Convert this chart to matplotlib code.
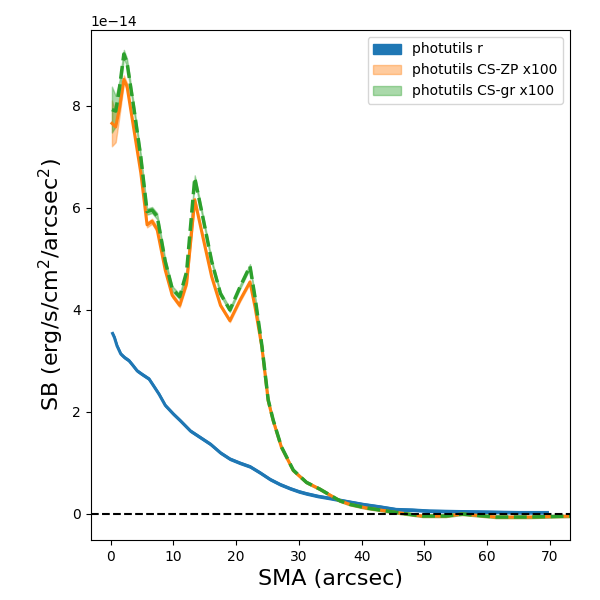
import numpy as np
import matplotlib
matplotlib.use("Agg")
import matplotlib.pyplot as plt

# surface brightness profiles, in units of 1e-14 erg/s/cm2/arcsec2
sma_r = [0.3, 0.6, 1.0, 1.6, 2.2, 2.9, 3.5, 4.2, 5.0, 6.1, 6.8, 7.7, 8.7, 10.0,
         11.1, 12.7, 14.3, 15.9, 17.5, 19.0, 20.6, 22.2, 23.8, 25.4, 27.0, 28.6,
         30.0, 31.2, 33.0, 34.9, 37.5, 40.2, 43.0, 45.5, 48.0, 50.8, 55.0, 60.0,
         65.0, 69.6]
sb_r = [3.54, 3.46, 3.30, 3.14, 3.07, 3.01, 2.92, 2.81, 2.74, 2.65, 2.52, 2.35,
        2.13, 1.96, 1.83, 1.63, 1.50, 1.37, 1.20, 1.08, 1.00, 0.93, 0.81, 0.68,
        0.58, 0.50, 0.44, 0.40, 0.35, 0.31, 0.25, 0.19, 0.14, 0.09, 0.08, 0.06,
        0.05, 0.04, 0.03, 0.03]
err_r = [0.02] * len(sb_r)

sma_cs = [0.2, 0.8, 1.4, 2.1, 2.6, 3.7, 4.8, 5.8, 6.6, 7.4, 8.7, 9.8, 11.0, 12.1,
          13.4, 14.8, 16.1, 17.5, 19.0, 20.6, 22.2, 23.0, 24.1, 25.1, 25.9, 27.2,
          29.1, 31.2, 33.3, 36.5, 38.1, 40.7, 45.5, 49.7, 53.4, 56.0, 61.4, 66.7,
          73.5]
sb_zp = [7.66, 7.59, 7.95, 8.52, 8.39, 7.54, 6.69, 5.67, 5.74, 5.58, 4.78, 4.29,
         4.09, 4.52, 6.16, 5.37, 4.65, 4.09, 3.79, 4.19, 4.55, 4.06, 3.27, 2.22,
         1.83, 1.31, 0.85, 0.62, 0.49, 0.26, 0.19, 0.12, 0.03, -0.04, -0.04,
         0.00, -0.06, -0.06, -0.04]
err_zp = [0.45, 0.30, 0.15, 0.08, 0.06, 0.06, 0.05, 0.05, 0.05, 0.05, 0.04, 0.04,
          0.04, 0.04, 0.04, 0.04, 0.03, 0.03, 0.03, 0.03, 0.03, 0.03, 0.03, 0.02,
          0.02, 0.02, 0.02, 0.02, 0.02, 0.02, 0.02, 0.02, 0.02, 0.02, 0.02, 0.02,
          0.02, 0.02, 0.02]
sb_gr = [7.93, 7.90, 8.35, 9.02, 8.85, 7.95, 7.00, 5.93, 5.96, 5.84, 4.95, 4.42,
         4.26, 4.75, 6.59, 5.75, 4.95, 4.32, 4.00, 4.45, 4.86, 4.25, 3.30, 2.24,
         1.84, 1.32, 0.86, 0.62, 0.49, 0.26, 0.19, 0.12, 0.03, -0.04, -0.04,
         0.00, -0.06, -0.06, -0.04]
err_gr = [0.45, 0.30, 0.15, 0.08, 0.08, 0.07, 0.06, 0.06, 0.06, 0.06, 0.05, 0.05,
          0.05, 0.05, 0.05, 0.05, 0.04, 0.04, 0.04, 0.04, 0.04, 0.04, 0.03, 0.03,
          0.02, 0.02, 0.02, 0.02, 0.02, 0.02, 0.02, 0.02, 0.02, 0.02, 0.02, 0.02,
          0.02, 0.02, 0.02]

scale = 1e-14
sma_r = np.array(sma_r)
sma_cs = np.array(sma_cs)
sb_r = np.array(sb_r) * scale
sb_zp = np.array(sb_zp) * scale
sb_gr = np.array(sb_gr) * scale
err_r = np.array(err_r) * scale
err_zp = np.array(err_zp) * scale
err_gr = np.array(err_gr) * scale

fig = plt.figure(figsize=(6, 6), dpi=100)
plt.subplots_adjust(left=0.151, right=0.95, top=0.95, bottom=0.1)
ax = plt.subplot(111)

ax.fill_between(sma_r, sb_r - err_r, sb_r + err_r, color='C0', alpha=1.0, label='photutils r')
ax.plot(sma_r, sb_r, color='C0', lw=2.2)

ax.fill_between(sma_cs, sb_zp - err_zp, sb_zp + err_zp, color='C1', alpha=0.4, label='photutils CS-ZP x100')
ax.plot(sma_cs, sb_zp, color='C1', lw=2.2)

ax.fill_between(sma_cs, sb_gr - err_gr, sb_gr + err_gr, color='C2', alpha=0.4, label='photutils CS-gr x100')
ax.plot(sma_cs, sb_gr, color='C2', lw=2.5, ls='--')

ax.axhline(0, color='k', ls='--', lw=1.5)

ax.set_xlim(-3.2, 73.2)
ax.set_ylim(-0.51e-14, 9.49e-14)
ax.set_xlabel('SMA (arcsec)', fontsize=16)
ax.set_ylabel(r'SB (erg/s/cm$^2$/arcsec$^2$)', fontsize=16)
ax.legend(loc='upper right')

plt.savefig('out.png', dpi=100)
